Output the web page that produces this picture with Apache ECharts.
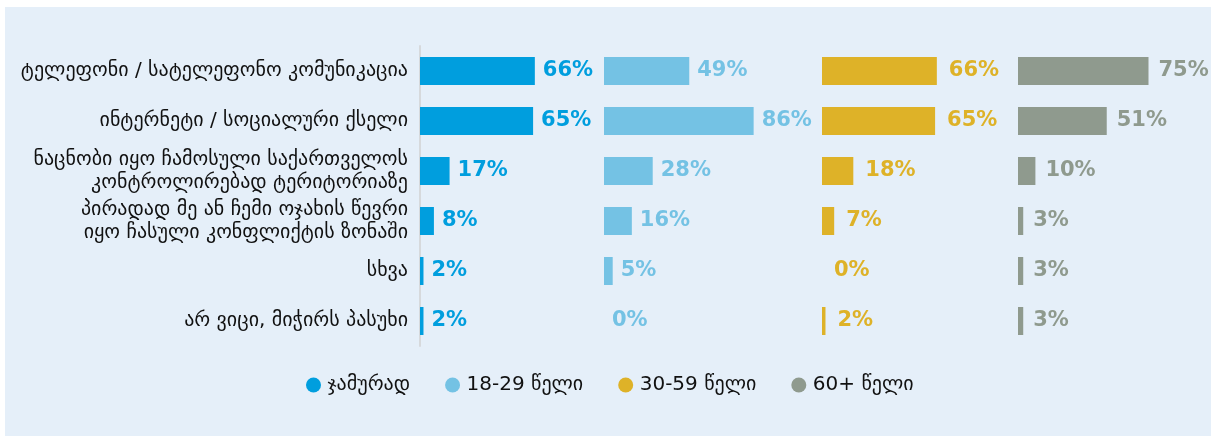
<!DOCTYPE html>
<html><head><meta charset="utf-8">
<script src="https://cdn.jsdelivr.net/npm/echarts@6/dist/echarts.min.js"></script>
<style>html,body{margin:0;padding:0;background:#fff}#c{width:1211px;height:436px}</style>
</head><body><div id="c"></div>
<script>
const categories = [
  'ტელეფონი / სატელეფონო კომუნიკაცია',
  'ინტერნეტი / სოციალური ქსელი',
  'ნაცნობი იყო ჩამოსული საქართველოს\nკონტროლირებად ტერიტორიაზე',
  'პირადად მე ან ჩემი ოჯახის წევრი\nიყო ჩასული კონფლიქტის ზონაში',
  'სხვა',
  'არ ვიცი, მიჭირს პასუხი'
];
const seriesNames = ['ჯამურად', '18-29 წელი', '30-59 წელი', '60+ წელი'];
const total = [66, 65, 17, 8, 2, 2];
const age18_29 = [49, 86, 28, 16, 5, 0];
const age30_59 = [66, 65, 18, 7, 0, 2];
const age60 = [75, 51, 10, 3, 3, 3];
const values = [total, age18_29, age30_59, age60];
const colors = ['#009ede', '#74c2e4', '#deb228', '#8f9a8e'];
const gridLefts = [420, 604, 822, 1018];
const labelDist = [8, 8, 12, 10];

const font = 'DejaVu Sans';
const grids = [], xAxes = [], yAxes = [], series = [];
for (let i = 0; i < 4; i++) {
  grids.push({left: gridLefts[i], top: 46, height: 300, width: 174});
  xAxes.push({type: 'value', gridIndex: i, min: 0, max: 100, show: false});
  yAxes.push({
    type: 'category', gridIndex: i, data: categories, inverse: true,
    axisLine: {show: i === 0, lineStyle: {color: '#d6d9dc', width: 2}},
    axisTick: {show: false},
    axisLabel: {show: i === 0, color: '#111', fontFamily: font, fontSize: 20, lineHeight: 23, margin: 12}
  });
  series.push({
    name: seriesNames[i], type: 'bar', xAxisIndex: i, yAxisIndex: i,
    data: values[i], barWidth: 28,
    itemStyle: {color: colors[i]},
    label: {show: true, position: 'right', distance: labelDist[i], formatter: '{c}%',
      color: colors[i], fontFamily: font, fontWeight: 'bold', fontSize: 21}
  });
}
const chart = echarts.init(document.getElementById('c'));
chart.setOption({
  backgroundColor: '#ffffff',
  animation: false,
  graphic: [{type: 'rect', shape: {x: 5, y: 7, width: 1206, height: 429}, style: {fill: '#e5eff9'}, z: -10, silent: true}],
  grid: grids, xAxis: xAxes, yAxis: yAxes, series: series,
  legend: {
    data: seriesNames, left: 301, top: 370, icon: 'circle', itemWidth: 18, itemHeight: 15, itemGap: 35,
    textStyle: {fontFamily: font, fontSize: 20, color: '#111'}
  }
});
</script></body></html>
